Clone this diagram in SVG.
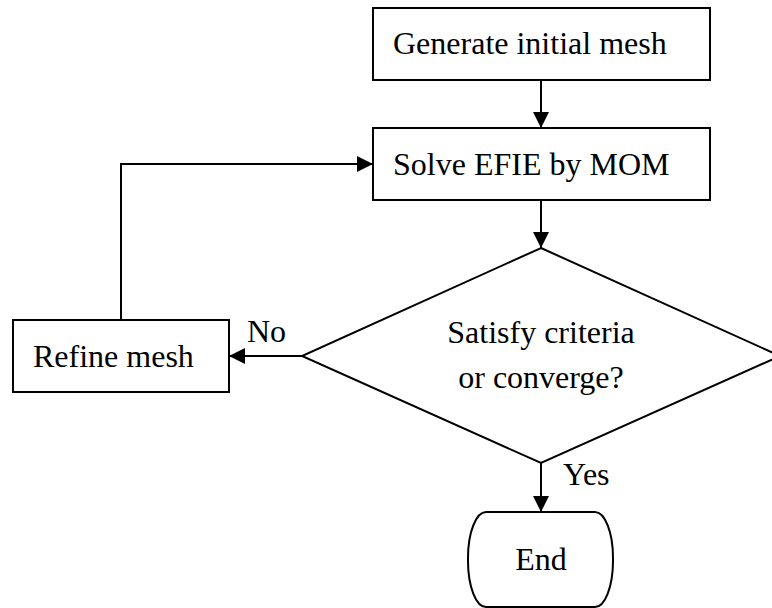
<svg xmlns="http://www.w3.org/2000/svg" width="772" height="608" viewBox="0 0 772 608">
<style>
.shape{fill:#fff;stroke:#000;stroke-width:2}
.conn{fill:none;stroke:#000;stroke-width:2}
text{font-family:"Liberation Serif","Times New Roman",serif;font-size:32px;fill:#000}
</style>
<defs>
<marker id="arr" markerUnits="userSpaceOnUse" markerWidth="18" markerHeight="16" refX="16" refY="8" orient="auto">
<path d="M0,0 L16,8 L0,16 Z" fill="#000"/>
</marker>
</defs>
<rect width="772" height="608" fill="#fff"/>
<g id="n-generate">
<rect class="shape" x="373" y="8" width="337" height="72"/>
<text x="393" y="54">Generate initial mesh</text>
</g>
<g id="n-solve">
<rect class="shape" x="373" y="128" width="337" height="72"/>
<text x="393" y="175">Solve EFIE by MOM</text>
</g>
<g id="n-decision">
<polygon class="shape" points="541,248 780,356 541,463 302,356"/>
<text x="541" y="343" text-anchor="middle">Satisfy criteria</text>
<text x="541" y="388" text-anchor="middle">or converge?</text>
</g>
<g id="n-refine">
<rect class="shape" x="13" y="320" width="216" height="72"/>
<text x="33" y="367">Refine mesh</text>
</g>
<g id="n-end">
<rect class="shape" x="468" y="512" width="145" height="95" rx="18" ry="46"/>
<text x="541" y="570" text-anchor="middle">End</text>
</g>
<g id="connectors">
<line class="conn" x1="541" y1="80" x2="541" y2="128" marker-end="url(#arr)"/>
<line class="conn" x1="541" y1="200" x2="541" y2="248" marker-end="url(#arr)"/>
<line class="conn" x1="302" y1="356" x2="229" y2="356" marker-end="url(#arr)"/>
<polyline class="conn" points="121,320 121,164 373,164" marker-end="url(#arr)"/>
<line class="conn" x1="541" y1="463" x2="541" y2="512" marker-end="url(#arr)"/>
<text x="247" y="342">No</text>
<text x="563" y="485">Yes</text>
</g>
</svg>
